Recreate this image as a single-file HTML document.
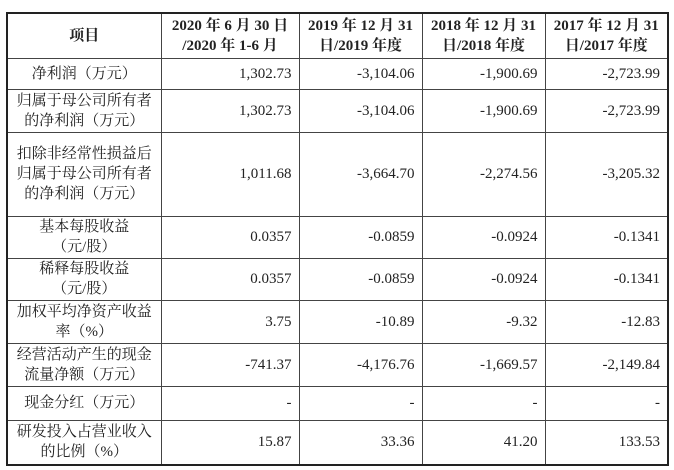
<!DOCTYPE html>
<html><head><meta charset="utf-8"><style>
body{margin:0;background:#fff;width:674px;height:470px;overflow:hidden}
table{position:absolute;left:6px;top:12px;border-collapse:collapse;border:2px solid #222;
font-family:"Liberation Serif","Noto Serif CJK SC",serif;font-size:15px;color:#222;table-layout:fixed}
td,th{border:1px solid #444;padding:0 7px;line-height:20px}
th{font-weight:bold;text-align:center;font-size:15px}
td.l{text-align:center;padding:0 3px}
td.n{text-align:right}
</style></head><body>
<table>
<colgroup><col style="width:154px"><col style="width:138px"><col style="width:123px"><col style="width:123px"><col style="width:123px"></colgroup>
<tr style="height:45px"><th>项目</th><th>2020 年 6 月 30 日<br>/2020 年 1-6 月</th><th>2019 年 12 月 31<br>日/2019 年度</th><th>2018 年 12 月 31<br>日/2018 年度</th><th>2017 年 12 月 31<br>日/2017 年度</th></tr>
<tr style="height:31px"><td class="l">净利润（万元）</td><td class="n">1,302.73</td><td class="n">-3,104.06</td><td class="n">-1,900.69</td><td class="n">-2,723.99</td></tr>
<tr style="height:43px"><td class="l">归属于母公司所有者的净利润（万元）</td><td class="n">1,302.73</td><td class="n">-3,104.06</td><td class="n">-1,900.69</td><td class="n">-2,723.99</td></tr>
<tr style="height:84px"><td class="l">扣除非经常性损益后归属于母公司所有者的净利润（万元）</td><td class="n">1,011.68</td><td class="n">-3,664.70</td><td class="n">-2,274.56</td><td class="n">-3,205.32</td></tr>
<tr style="height:42px"><td class="l">基本每股收益<br>（元/股）</td><td class="n">0.0357</td><td class="n">-0.0859</td><td class="n">-0.0924</td><td class="n">-0.1341</td></tr>
<tr style="height:42px"><td class="l">稀释每股收益<br>（元/股）</td><td class="n">0.0357</td><td class="n">-0.0859</td><td class="n">-0.0924</td><td class="n">-0.1341</td></tr>
<tr style="height:43px"><td class="l">加权平均净资产收益率（%）</td><td class="n">3.75</td><td class="n">-10.89</td><td class="n">-9.32</td><td class="n">-12.83</td></tr>
<tr style="height:43px"><td class="l">经营活动产生的现金流量净额（万元）</td><td class="n">-741.37</td><td class="n">-4,176.76</td><td class="n">-1,669.57</td><td class="n">-2,149.84</td></tr>
<tr style="height:34px"><td class="l">现金分红（万元）</td><td class="n">-</td><td class="n">-</td><td class="n">-</td><td class="n">-</td></tr>
<tr style="height:45px"><td class="l">研发投入占营业收入的比例（%）</td><td class="n">15.87</td><td class="n">33.36</td><td class="n">41.20</td><td class="n">133.53</td></tr>
</table>
</body></html>
